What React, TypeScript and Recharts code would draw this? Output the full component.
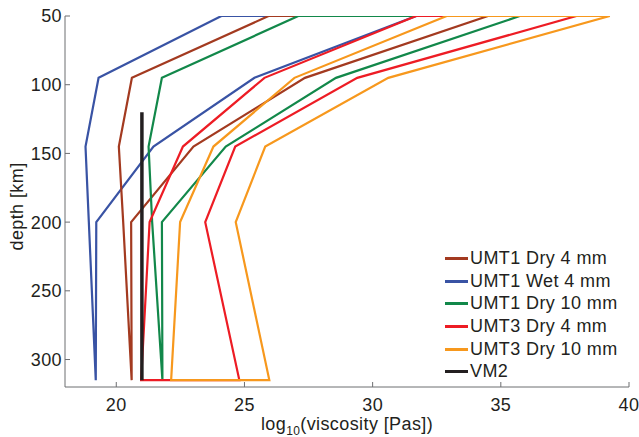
import { ScatterChart, Scatter, XAxis, YAxis, Legend, Label } from "recharts";

// depth levels (km) at which each bound is given
const depths = [50, 95, 145, 200, 315];

const names = [
  "UMT1 Dry 4 mm",
  "UMT1 Wet 4 mm",
  "UMT1 Dry 10 mm",
  "UMT3 Dry 4 mm",
  "UMT3 Dry 10 mm",
  "VM2",
];
const colors = ["#a33a20", "#3953a4", "#12884a", "#ed1c24", "#f7981d", "#231f20"];

// log10 viscosity, lower / upper bound at each depth
const umt1Dry4Lo = [25.94, 20.61, 20.1, 20.27, 20.6];
const umt1Dry4Hi = [34.5, 27.36, 23.01, 20.58, 20.6];
const umt1Wet4Lo = [24.1, 19.31, 18.8, 18.93, 19.2];
const umt1Wet4Hi = [31.7, 25.39, 21.45, 19.22, 19.2];
const umt1Dry10Lo = [27.1, 21.78, 21.26, 21.4, 21.8];
const umt1Dry10Hi = [35.74, 28.57, 24.27, 21.78, 21.8];
const umt3Dry4Lo = [31.7, 25.78, 22.6, 21.3, 20.97];
const umt3Dry4Hi = [37.95, 29.4, 24.64, 23.47, 24.8];
const umt3Dry10Lo = [32.89, 26.95, 23.79, 22.49, 22.14];
const umt3Dry10Hi = [39.25, 30.61, 25.81, 24.66, 25.97];

const vm2Visc = [21, 21];
const vm2Depth = [120, 315];

const xTicks = [20, 25, 30, 35, 40];
const yTicks = [50, 100, 150, 200, 250, 300];

const FONT = "'Liberation Sans', Arial, Helvetica, sans-serif";
const INK = "#231f20";
const AXIS = "#6d6e71";

// closed band: down the lower bound, back up the upper bound, across the top
function band(lo: number[], hi: number[]) {
  const down = depths.map((d, i) => ({ v: lo[i], d }));
  const up = depths.map((d, i) => ({ v: hi[i], d })).reverse();
  return [...down, ...up, down[0]];
}

const vm2 = vm2Depth.map((d, i) => ({ v: vm2Visc[i], d }));

// draw order (blue under brown at the top edge)
const bands = [
  { data: band(umt1Wet4Lo, umt1Wet4Hi), color: colors[1] },
  { data: band(umt1Dry4Lo, umt1Dry4Hi), color: colors[0] },
  { data: band(umt1Dry10Lo, umt1Dry10Hi), color: colors[2] },
  { data: band(umt3Dry4Lo, umt3Dry4Hi), color: colors[3] },
  { data: band(umt3Dry10Lo, umt3Dry10Hi), color: colors[4] },
];

const noDot = () => <g />;

function renderLegend() {
  return (
    <div style={{ fontFamily: FONT, fontSize: 18, letterSpacing: 0.4, color: INK }}>
      {names.map((n, i) => (
        <div key={n} style={{ display: "flex", alignItems: "center", height: 22.7 }}>
          <span
            style={{
              display: "inline-block",
              width: 23,
              height: 3,
              background: colors[i],
              marginRight: 2,
            }}
          />
          <span style={{ lineHeight: "22.7px", whiteSpace: "nowrap" }}>{n}</span>
        </div>
      ))}
    </div>
  );
}

function XTitle(props: any) {
  const vb = props.viewBox;
  return (
    <text
      x={vb.x + vb.width / 2}
      y={vb.y + 43}
      textAnchor="middle"
      fill={INK}
      fontSize={18}
    >
      log
      <tspan fontSize={12} dy={5}>
        10
      </tspan>
      <tspan dy={-5}>(viscosity [Pas])</tspan>
    </text>
  );
}

function YTitle(props: any) {
  const vb = props.viewBox;
  const cx = 22.7;
  const cy = vb.y + vb.height / 2 + 5;
  return (
    <text
      x={cx}
      y={cy}
      transform={`rotate(-90, ${cx}, ${cy})`}
      textAnchor="middle"
      fill={INK}
      fontSize={18}
    >
      depth [km]
    </text>
  );
}

export default function App() {
  return (
    <div style={{ position: "absolute", left: 0, top: 0 }}>
      <ScatterChart
        width={639}
        height={437}
        margin={{ top: 16, right: 10, left: 0, bottom: 0 }}
        style={{ fontFamily: FONT, letterSpacing: 0.4 }}
      >
        <XAxis
          type="number"
          dataKey="v"
          domain={[18, 40]}
          ticks={xTicks}
          interval={0}
          allowDataOverflow
          height={50}
          tickSize={-5}
          tickMargin={16}
          axisLine={{ stroke: AXIS }}
          tickLine={{ stroke: AXIS }}
          tick={{ fill: INK, fontSize: 18 }}
        >
          <Label content={XTitle} />
        </XAxis>
        <YAxis
          type="number"
          dataKey="d"
          domain={[50, 320]}
          reversed
          ticks={yTicks}
          interval={0}
          allowDataOverflow
          width={65}
          tickSize={-5}
          tickMargin={8}
          axisLine={{ stroke: AXIS }}
          tickLine={{ stroke: AXIS }}
          tick={{ fill: INK, fontSize: 18 }}
        >
          <Label content={YTitle} />
        </YAxis>
        {bands.map((b, i) => (
          <Scatter
            key={i}
            data={b.data}
            fill={b.color}
            line={{ stroke: b.color, strokeWidth: 2.2 }}
            lineType="joint"
            shape={noDot}
            isAnimationActive={false}
          />
        ))}
        <Scatter
          data={vm2}
          fill={colors[5]}
          line={{ stroke: colors[5], strokeWidth: 3.5 }}
          lineType="joint"
          shape={noDot}
          isAnimationActive={false}
        />
        <Legend
          content={renderLegend}
          layout="horizontal"
          align="center"
          verticalAlign="middle"
          wrapperStyle={{ left: 445, top: 247, width: 190 }}
        />
      </ScatterChart>
    </div>
  );
}
